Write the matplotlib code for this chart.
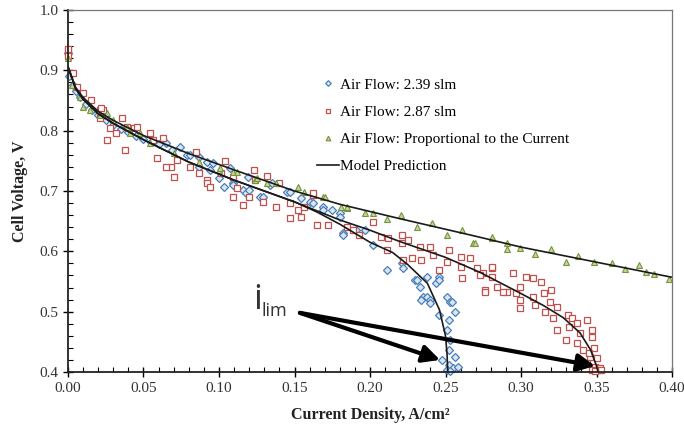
import matplotlib
matplotlib.use("Agg")
import matplotlib.pyplot as plt
from matplotlib.ticker import MultipleLocator, FormatStrFormatter

plt.rcParams['font.family'] = ['Liberation Serif', 'DejaVu Serif']

# measured polarization data, current density (A/cm2) vs cell voltage (V)
flow239_x = [0.0, 0.001, 0.003, 0.005, 0.008, 0.012, 0.016, 0.020, 0.025, 0.030,
             0.035, 0.040, 0.045, 0.050, 0.055, 0.060, 0.065, 0.069, 0.074, 0.079,
             0.081, 0.087, 0.087, 0.092, 0.094, 0.096, 0.100, 0.103, 0.107, 0.109,
             0.109, 0.116, 0.118, 0.119, 0.120, 0.127, 0.129, 0.134, 0.135, 0.145,
             0.147, 0.154, 0.160, 0.162, 0.169, 0.169, 0.175, 0.180, 0.180, 0.182,
             0.182, 0.191, 0.197, 0.202, 0.211, 0.221, 0.222, 0.230, 0.231, 0.233,
             0.238, 0.235, 0.238, 0.234, 0.240, 0.240, 0.244, 0.246, 0.246, 0.251,
             0.253, 0.254, 0.256, 0.246, 0.252, 0.251, 0.253, 0.252, 0.256, 0.248,
             0.252, 0.255, 0.258, 0.251, 0.253]
flow239_y = [0.928, 0.890, 0.875, 0.865, 0.855, 0.845, 0.835, 0.826, 0.818, 0.810,
             0.803, 0.797, 0.792, 0.786, 0.782, 0.778, 0.780, 0.768, 0.773, 0.760,
             0.760, 0.756, 0.740, 0.748, 0.735, 0.746, 0.721, 0.707, 0.738, 0.713,
             0.710, 0.702, 0.697, 0.723, 0.702, 0.690, 0.690, 0.710, 0.713, 0.698,
             0.698, 0.689, 0.682, 0.680, 0.674, 0.669, 0.669, 0.663, 0.657, 0.630,
             0.627, 0.635, 0.635, 0.611, 0.569, 0.580, 0.572, 0.553, 0.553, 0.541,
             0.558, 0.524, 0.524, 0.519, 0.519, 0.514, 0.547, 0.557, 0.553, 0.524,
             0.516, 0.516, 0.500, 0.495, 0.486, 0.470, 0.453, 0.436, 0.425, 0.420,
             0.411, 0.407, 0.408, 0.403, 0.401]

flow287_x = [0.0, 0.0, 0.0, 0.003, 0.006, 0.010, 0.015, 0.021, 0.023, 0.021,
             0.028, 0.032, 0.039, 0.044, 0.046, 0.054, 0.063, 0.038, 0.072, 0.087,
             0.092, 0.104, 0.101, 0.109, 0.056, 0.068, 0.081, 0.022, 0.085, 0.036,
             0.026, 0.070, 0.112, 0.116, 0.120, 0.123, 0.124, 0.129, 0.132, 0.138,
             0.140, 0.147, 0.147, 0.152, 0.154, 0.156, 0.162, 0.162, 0.165, 0.172,
             0.185, 0.092, 0.065, 0.059, 0.094, 0.109, 0.189, 0.193, 0.202, 0.207,
             0.211, 0.212, 0.221, 0.221, 0.225, 0.222, 0.233, 0.240, 0.242, 0.228,
             0.234, 0.246, 0.252, 0.251, 0.260, 0.266, 0.260, 0.271, 0.261, 0.275,
             0.281, 0.281, 0.276, 0.284, 0.295, 0.291, 0.297, 0.273, 0.276, 0.281,
             0.288, 0.299, 0.303, 0.308, 0.313, 0.299, 0.299, 0.308, 0.309, 0.315,
             0.320, 0.319, 0.324, 0.316, 0.321, 0.324, 0.331, 0.334, 0.337, 0.332,
             0.344, 0.339, 0.347, 0.347, 0.330, 0.337, 0.341, 0.348, 0.346, 0.350,
             0.344, 0.349, 0.352, 0.347, 0.351, 0.339, 0.345, 0.353, 0.349]
flow287_y = [0.930, 0.924, 0.936, 0.896, 0.873, 0.862, 0.851, 0.834, 0.834, 0.821,
             0.805, 0.796, 0.806, 0.805, 0.806, 0.796, 0.788, 0.768, 0.751, 0.730,
             0.718, 0.750, 0.730, 0.723, 0.785, 0.740, 0.740, 0.838, 0.765, 0.821,
             0.785, 0.723, 0.705, 0.677, 0.690, 0.735, 0.718, 0.682, 0.725, 0.674,
             0.713, 0.655, 0.680, 0.669, 0.657, 0.674, 0.693, 0.697, 0.644, 0.644,
             0.641, 0.713, 0.740, 0.755, 0.707, 0.690, 0.635, 0.627, 0.649, 0.624,
             0.602, 0.622, 0.627, 0.614, 0.619, 0.586, 0.607, 0.607, 0.594, 0.589,
             0.586, 0.569, 0.602, 0.582, 0.591, 0.589, 0.574, 0.572, 0.556, 0.564,
             0.572, 0.557, 0.536, 0.541, 0.564, 0.533, 0.531, 0.561, 0.533, 0.574,
             0.533, 0.541, 0.558, 0.556, 0.549, 0.519, 0.506, 0.524, 0.511, 0.531,
             0.536, 0.516, 0.508, 0.499, 0.490, 0.470, 0.495, 0.490, 0.481, 0.475,
             0.486, 0.465, 0.470, 0.458, 0.453, 0.448, 0.436, 0.440, 0.425, 0.423,
             0.415, 0.408, 0.407, 0.403, 0.403, 0.415, 0.432, 0.404, 0.401]

prop_x = [0.0, 0.0026, 0.008, 0.010, 0.0146, 0.021, 0.026, 0.030, 0.039, 0.041,
          0.048, 0.054, 0.070, 0.087, 0.100, 0.1007, 0.109, 0.112, 0.124, 0.125,
          0.132, 0.138, 0.152, 0.156, 0.169, 0.170, 0.181, 0.185, 0.185, 0.197,
          0.202, 0.211, 0.2205, 0.231, 0.241, 0.251, 0.261, 0.268, 0.2695, 0.281,
          0.281, 0.291, 0.291, 0.299, 0.309, 0.320, 0.330, 0.338, 0.348, 0.360,
          0.369, 0.378, 0.383, 0.388, 0.398]
prop_y = [0.920, 0.876, 0.856, 0.839, 0.834, 0.826, 0.829, 0.818, 0.806, 0.796,
          0.796, 0.780, 0.763, 0.748, 0.735, 0.738, 0.732, 0.732, 0.718, 0.722,
          0.713, 0.713, 0.707, 0.698, 0.690, 0.690, 0.673, 0.672, 0.674, 0.663,
          0.663, 0.654, 0.660, 0.640, 0.647, 0.627, 0.635, 0.614, 0.614, 0.622,
          0.624, 0.604, 0.614, 0.605, 0.595, 0.604, 0.582, 0.592, 0.582, 0.580,
          0.571, 0.577, 0.566, 0.562, 0.554]

# model prediction curves
model_prop_x = [0.0, 0.005, 0.01, 0.02, 0.03, 0.05, 0.08, 0.11, 0.15, 0.18,
                0.22, 0.27, 0.30, 0.35, 0.40]
model_prop_y = [0.906, 0.872, 0.855, 0.832, 0.817, 0.792, 0.762, 0.735, 0.700, 0.678,
                0.654, 0.625, 0.607, 0.582, 0.557]
model_287_x = [0.0, 0.005, 0.01, 0.02, 0.03, 0.05, 0.08, 0.11, 0.15, 0.18,
               0.20, 0.22, 0.25, 0.273, 0.30, 0.315, 0.328, 0.339, 0.346, 0.350, 0.351]
model_287_y = [0.906, 0.870, 0.852, 0.828, 0.812, 0.785, 0.748, 0.718, 0.682, 0.652,
               0.635, 0.616, 0.590, 0.565, 0.530, 0.510, 0.490, 0.465, 0.437, 0.410, 0.400]
model_239_x = [0.0, 0.005, 0.01, 0.02, 0.03, 0.05, 0.08, 0.11, 0.15, 0.165,
               0.18, 0.20, 0.215, 0.225, 0.238, 0.246, 0.250, 0.251, 0.2515]
model_239_y = [0.906, 0.870, 0.852, 0.828, 0.812, 0.785, 0.748, 0.718, 0.682, 0.665,
               0.645, 0.615, 0.598, 0.578, 0.547, 0.503, 0.460, 0.430, 0.400]

fig = plt.figure(figsize=(6.84, 4.30), dpi=100)
ax = fig.add_axes([0.0994, 0.1349, 0.8831, 0.8418])

ax.plot(flow239_x, flow239_y, linestyle='none', marker='D', ms=3.6, mfc='#dbe6f3',
        mec='#4a7ebb', mew=0.9, clip_on=False, label='Air Flow: 2.39 slm')
ax.plot(flow287_x, flow287_y, linestyle='none', marker='s', ms=4.4, mfc='white',
        mec='#c0504d', mew=0.9, clip_on=False, label='Air Flow: 2.87 slm')
ax.plot(prop_x, prop_y, linestyle='none', marker='^', ms=4.2, mfc='#c3d69b',
        mec='#77933c', mew=0.8, clip_on=False,
        label='Air Flow: Proportional to the Current')

ax.plot(model_prop_x, model_prop_y, color='#1a1a1a', lw=1.2, label='Model Prediction')
ax.plot(model_287_x, model_287_y, color='#1a1a1a', lw=1.2)
ax.plot(model_239_x, model_239_y, color='#1a1a1a', lw=1.2)

ax.set_xlim(0, 0.40)
ax.set_ylim(0.4, 1.0)
ax.xaxis.set_major_locator(MultipleLocator(0.05))
ax.xaxis.set_minor_locator(MultipleLocator(0.01))
ax.yaxis.set_major_locator(MultipleLocator(0.1))
ax.yaxis.set_minor_locator(MultipleLocator(0.02))
ax.xaxis.set_major_formatter(FormatStrFormatter('%.2f'))
ax.yaxis.set_major_formatter(FormatStrFormatter('%.1f'))
ax.tick_params(which='major', direction='inout', length=7, width=1.0,
               labelsize=11, labelcolor='#333333', top=False, right=False)
ax.tick_params(which='minor', direction='in', length=3.5, width=0.8,
               top=False, right=False)
ax.tick_params(axis='x', which='major', pad=4)

for side in ['left', 'bottom']:
    ax.spines[side].set_color('#222222')
    ax.spines[side].set_linewidth(1.3)
for side in ['top', 'right']:
    ax.spines[side].set_color('#777777')
    ax.spines[side].set_linewidth(0.9)

ax.set_xlabel('Current Density, A/cm\u00b2', fontsize=11.5, fontweight='bold',
              color='#222222', labelpad=8)
ax.set_ylabel('Cell Voltage, V', fontsize=11.5, fontweight='bold',
              color='#222222', labelpad=8)

ax.legend(loc='upper left', bbox_to_anchor=(0.39, 0.85), frameon=False,
          fontsize=11, handlelength=1.4, handletextpad=0.1, labelspacing=0.88,
          markerscale=0.8)

# limiting current annotation
ax.text(0.1225, 0.5044, 'i', fontsize=25, family='Open Sans', color='#333333',
        va='baseline', ha='left')
ax.text(0.1280, 0.4928, 'lim', fontsize=13, family='Open Sans', color='#333333',
        va='baseline', ha='left')
arrow = dict(arrowstyle='-|>', lw=3, color='black', mutation_scale=26,
             shrinkA=0, shrinkB=0)
ax.annotate('', xy=(0.2464, 0.420), xytext=(0.1536, 0.498), arrowprops=arrow)
ax.annotate('', xy=(0.349, 0.410), xytext=(0.1536, 0.498), arrowprops=arrow)

fig.savefig('out.png', dpi=100, facecolor='white')
